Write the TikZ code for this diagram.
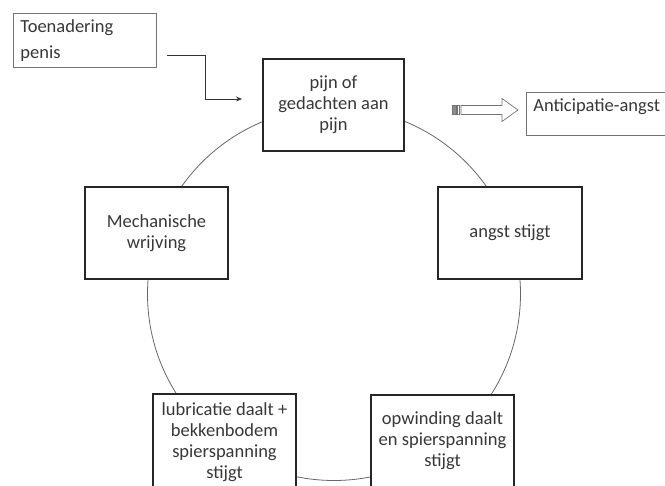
\documentclass[tikz,border=0pt]{standalone}
\usepackage{fontspec}
\setmainfont{Carlito}
\usetikzlibrary{arrows.meta}

\begin{document}
\begin{tikzpicture}[x=1pt, y=-1pt, >={Stealth[length=6pt,width=5pt]},
    font=\fontsize{18.5}{21}\selectfont, text=black!78,
    stepbox/.style={draw=black!85, line width=1.4pt, fill=white, align=center, inner sep=2pt},
    sidebox/.style={draw=black!55, line width=0.8pt, fill=white, align=left, anchor=north west, inner xsep=7pt}]
  \useasboundingbox (0,0) rectangle (665,486);
  \clip (0,0) rectangle (665,486);
  % ------------------------------------------------------------------ the cycle
  \draw[black!60, line width=0.8pt] (334,294) circle[radius=186.5pt];
  % name / centre x / centre y / width / height / text
  \foreach \name/\cx/\cy/\w/\h/\txt in {
      pijn/333.5/105/141/92/{pijn of\\gedachten aan\\pijn},
      angst/510/233/144/92/{angst stijgt},
      opwinding/442.5/441/143/92/{opwinding daalt\\en spierspanning\\stijgt},
      lubricatie/224.5/442/143/96/{lubricatie daalt +\\bekkenbodem\\spierspanning\\stijgt},
      wrijving/156.5/233/143/92/{Mechanische\\wrijving}} {
    \node[stepbox, minimum width=\w pt, minimum height=\h pt] (\name) at (\cx,\cy) {\txt};
  }
  % ------------------------------------------------------------------ trigger
  \node[sidebox, text width=129pt, minimum height=54pt, font=\fontsize{18.5}{26}\selectfont]
    (toenadering) at (13,13) {Toenadering\\penis};
  \coordinate (feed) at (167,55);
  \coordinate (feedend) at (242,99);
  \draw[->, black!80, line width=0.7pt] (feed) -- (205,55) |- (feedend);
  % ------------------------------------------------------------------ outcome
  \node[sidebox, text width=140pt, text height=13pt, text depth=18pt, inner ysep=6pt]
    (anticipatie) at (526,92) {Anticipatie-angst};
  \coordinate (tail) at (452,110);
  \coordinate (tip) at (518,110);
  \begin{scope}[black!55, line width=0.7pt]
    \draw[fill=black!45] (452,105.5) rectangle (456,114.5);
    \draw (457,105.5) rectangle (459,114.5);
    \draw[fill=white] (461,105.5) -- (502,105.5) -- (502,98.5) -- (tip)
      -- (502,121.5) -- (502,114.5) -- (461,114.5) -- cycle;
  \end{scope}
\end{tikzpicture}
\end{document}
